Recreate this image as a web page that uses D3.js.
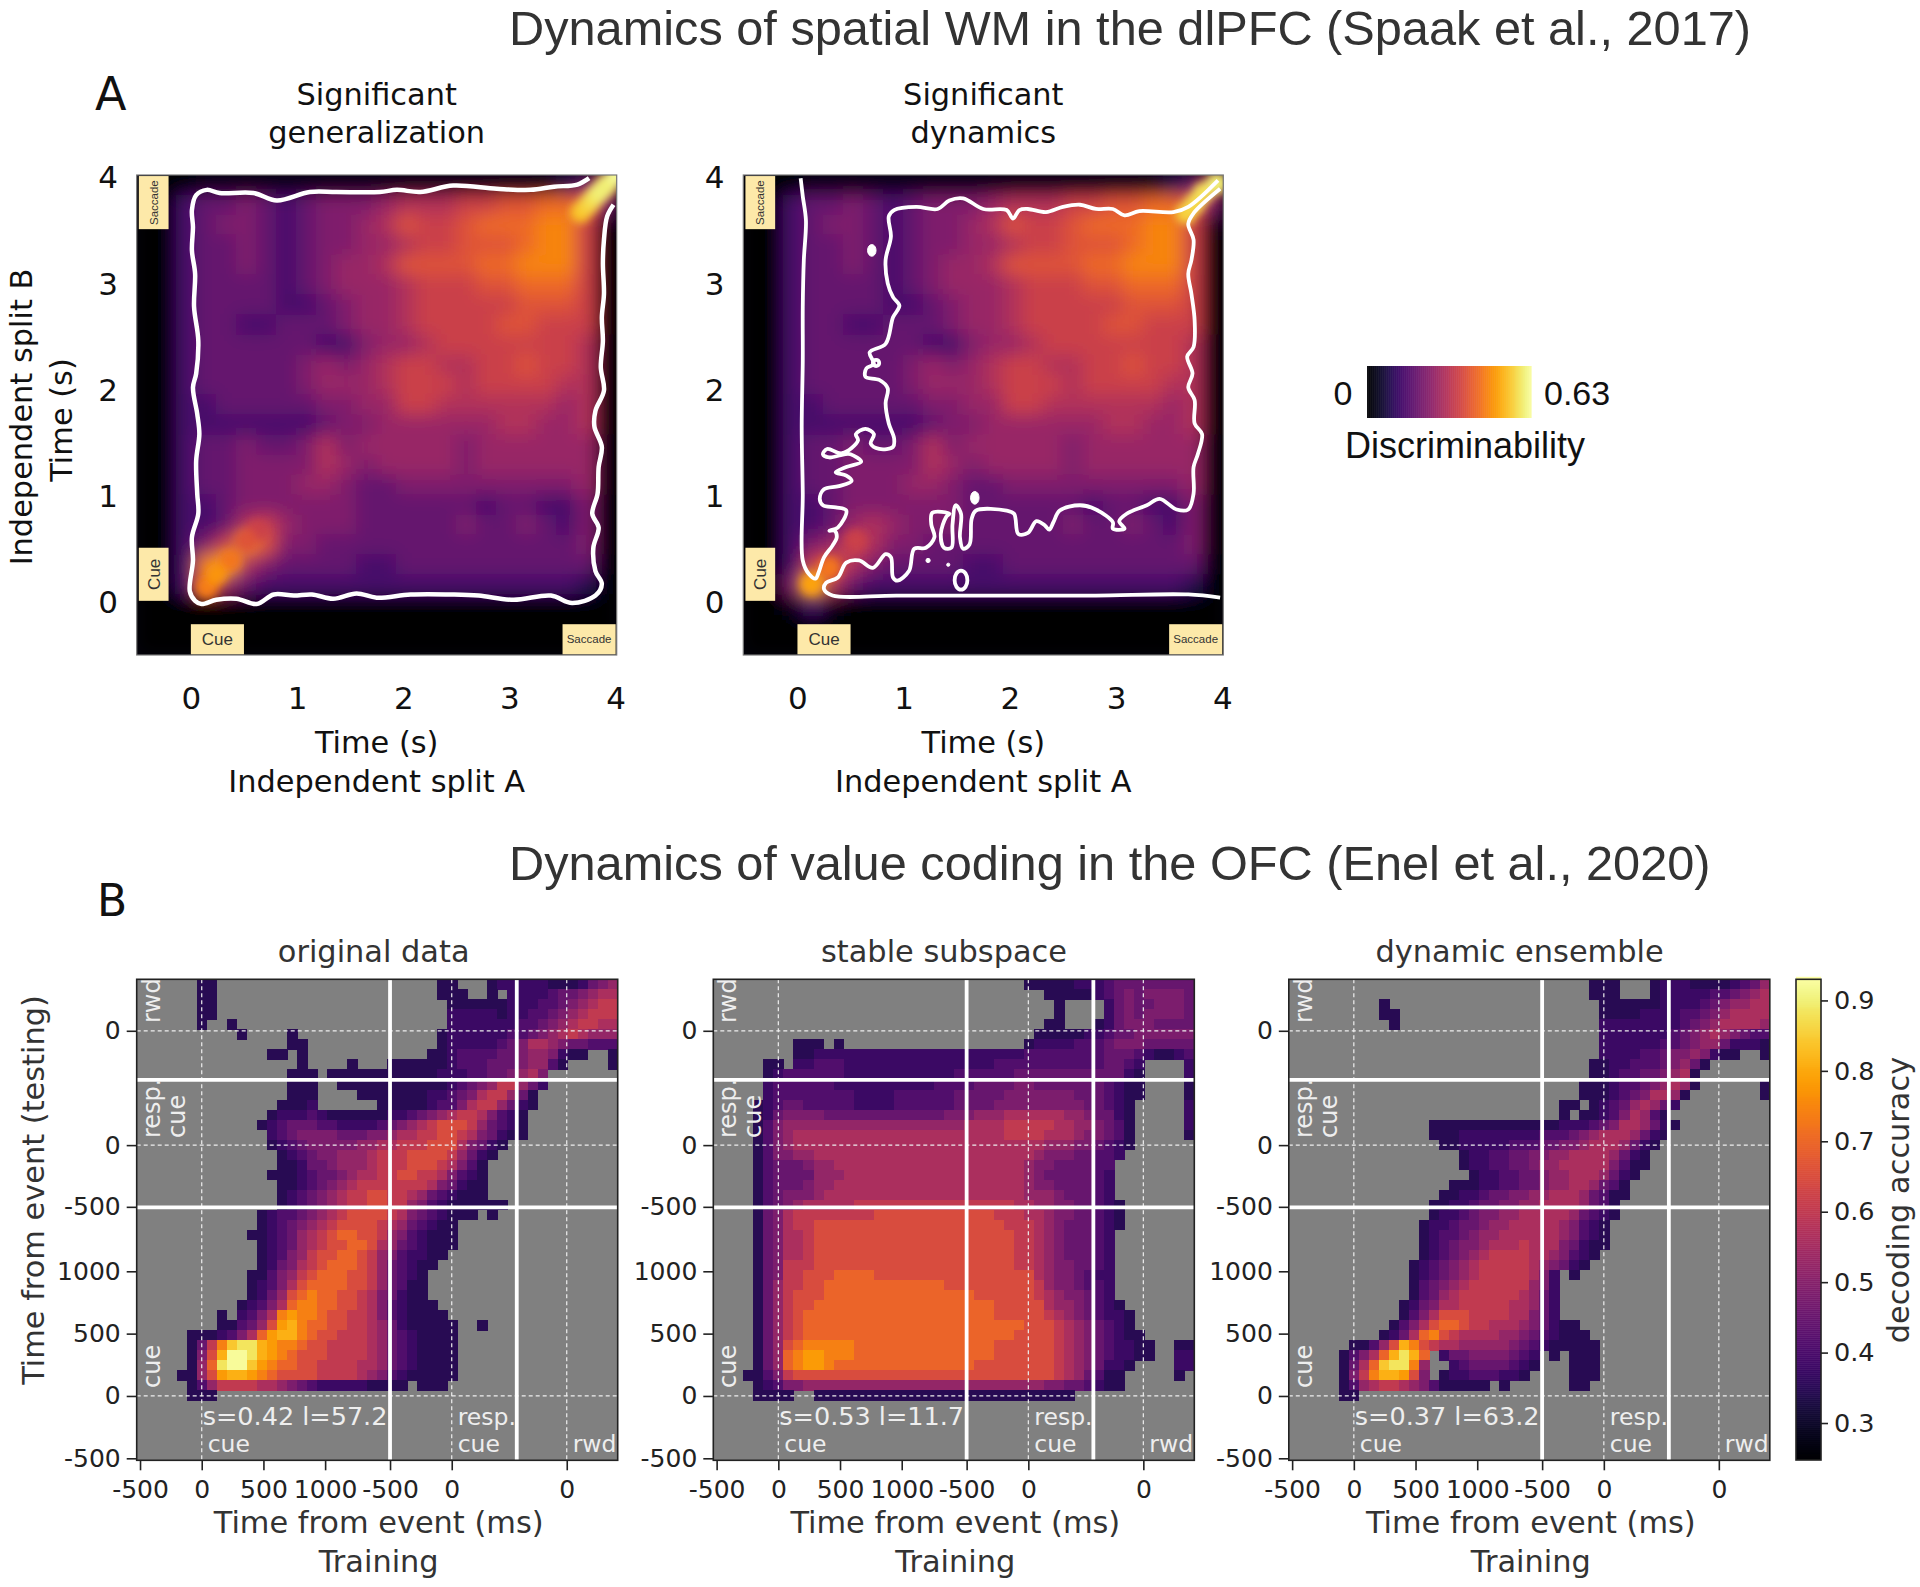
<!DOCTYPE html>
<html>
<head>
<meta charset="utf-8">
<script src="https://d3js.org/d3.v7.min.js"></script>
<style>
  body { margin: 0; background: #fff; }
  text { font-family: "DejaVu Sans", sans-serif; }
</style>
</head>
<body>
<svg id="fig" width="1920" height="1587"></svg>
<script>
// ---- data ----

// section A: discriminability. one char per cell, index into discrimLevels
const levelChars = "0123456789abcdef";
const discrimLevels = [0, .035, .09, .135, .18, .22, .26, .3, .34, .38, .42, .46, .5, .54, .58, .62];

const generalizationRows = [
  "000111111111111111 111248",
  "003445434555677788 99aa95",
  "003455434556798 89aaabb81",
  "003445434556678899 9abb80",
  "003445434566799 99aabbb80",
  "003444434566678889 9aaa80",
  "003444433456678888899980",
  "003443344456678888998880",
  "003444444335667888888870",
  "003444445656788778898870",
  "003444445666788878888770",
  "003344444556688777777670",
  "003333333455666666776670",
  "003445445756666656666660",
  "003445555765666656666660",
  "003445556654455555555560",
  "003345555554444443443350",
  "003347865554444454454350",
  "00358b955444444444444450",
  "003bc7544443344444444440",
  "003a64333333333333333320",
  "000000000000000000000000",
  "000000000000000000000000",
  "000000000000000000000000"
];
const dynamicsRows = [
  "000111111111111111 111248",
  "003445434555677788 99aa95",
  "003455434556798 89aaabb81",
  "003445434556678899 9abb80",
  "003445434566799 99aabbb80",
  "003444434566678889 9aaa80",
  "003444433456678888899980",
  "003443344456678888998880",
  "003444444335667888888870",
  "003444445656788778898870",
  "003444445666788878888770",
  "003344444556688777777670",
  "003333333455666666776670",
  "003445445756666656666660",
  "003445555765666656666660",
  "003445556654455555555560",
  "003345555554444443443350",
  "003346765554444454454350",
  "003568755444444444444450",
  "00389754444334444444 4440",
  "005c74333333333333333320",
  "001310000000000000000000",
  "000000000000000000000000",
  "000000000000000000000000"
];

// narrow ridges on the diagonal, too thin for the grid above: seconds A, seconds B, value
const generalizationRidge = [[.62,.66,.34],[.53,.57,.38],[.37,.38,.44],[.15,.13,.45],[.24,.25,.48],[3.67,3.66,.54],[3.74,3.73,.56],[3.8,3.8,.58],[3.86,3.86,.6],[3.92,3.92,.6],[4.02,4.02,.62]];
const dynamicsRidge = [[.55,.57,.34],[.3,.31,.44],[.13,.16,.5],[3.66,3.65,.56],[3.74,3.74,.57],[3.82,3.84,.58],[3.95,3.93,.6]];

// white significance outlines, [seconds A, seconds B]
const generalizationContour = [[3.75,3.98],[3.64,3.92],[3.42,3.9],[3.2,3.87],[2.88,3.88],[2.47,3.91],[2.16,3.85],[1.94,3.87],[1.78,3.85],[1.37,3.85],[1.12,3.85],[.81,3.77],[.59,3.84],[.27,3.84],[.15,3.87],[.05,3.82],[.01,3.68],[.02,3.52],[.01,3.3],[.04,3.08],[.03,2.77],[.07,2.45],[.05,2.14],[.02,2.01],[.06,1.76],[.08,1.57],[.05,1.32],[.06,1.01],[.07,.82],[.01,.6],[.02,.38],[-.01,.09],[.04,0],[.1,-.03],[.24,.01],[.43,.02],[.62,-.03],[.78,.06],[.97,.05],[1.14,.06],[1.34,.02],[1.56,.07],[1.75,.03],[2.07,.06],[2.47,.06],[2.71,.05],[3.04,.01],[3.39,.05],[3.59,-.02],[3.81,.05],[3.87,.16],[3.81,.28],[3.79,.5],[3.84,.69],[3.78,.82],[3.83,1.01],[3.84,1.26],[3.87,1.45],[3.8,1.64],[3.81,1.79],[3.89,1.98],[3.86,2.2],[3.88,2.45],[3.87,2.67],[3.89,2.89],[3.88,3.18],[3.89,3.4],[3.92,3.62],[3.98,3.73]];

const dynamicsOuter = [[.03,3.98],[.05,3.81],[.08,3.58],[.06,3.21],[.05,2.77],[.05,2.26],[.04,1.64],[.05,1.01],[.05,.38],[.11,.25],[.17,.21],[.2,.27],[.25,.41],[.33,.52],[.37,.6],[.35,.66],[.3,.66],[.38,.69],[.46,.85],[.36,.88],[.24,.9],[.21,.96],[.25,1.05],[.39,1.08],[.51,1.13],[.46,1.18],[.36,1.21],[.46,1.26],[.6,1.31],[.5,1.38],[.44,1.38],[.3,1.35],[.24,1.38],[.28,1.43],[.42,1.39],[.57,1.51],[.55,1.57],[.64,1.62],[.72,1.57],[.69,1.48],[.77,1.43],[.9,1.45],[.91,1.53],[.86,1.67],[.83,1.86],[.85,2],[.77,2.08],[.64,2.11],[.65,2.19],[.72,2.23],[.68,2.34],[.83,2.42],[.9,2.67],[.96,2.78],[.9,2.86],[.85,2.99],[.83,3.21],[.88,3.43],[.86,3.62],[.91,3.68],[1.12,3.71],[1.32,3.69],[1.43,3.77],[1.56,3.79],[1.75,3.69],[1.97,3.68],[2.03,3.6],[2.09,3.68],[2.17,3.69],[2.34,3.66],[2.5,3.71],[2.66,3.73],[2.81,3.69],[2.97,3.69],[3.08,3.63],[3.22,3.67],[3.54,3.66],[3.68,3.71],[3.96,3.96]];

const dynamicsInner = [[3.98,3.88],[3.73,3.65],[3.68,3.55],[3.73,3.4],[3.71,3.21],[3.68,3.08],[3.71,2.89],[3.74,2.64],[3.73,2.39],[3.67,2.3],[3.72,2.14],[3.68,2.01],[3.74,1.89],[3.74,1.67],[3.81,1.57],[3.77,1.38],[3.73,1.26],[3.73,1.01],[3.68,.86],[3.57,.86],[3.41,.96],[3.29,.9],[3.1,.82],[3.03,.75],[3.08,.68],[2.97,.68],[2.97,.74],[2.81,.86],[2.66,.9],[2.47,.85],[2.41,.74],[2.37,.67],[2.33,.71],[2.25,.75],[2.17,.64],[2.08,.63],[2.04,.82],[1.97,.85],[1.68,.85],[1.64,.77],[1.62,.53],[1.56,.49],[1.53,.6],[1.54,.82],[1.49,.9],[1.46,.72],[1.45,.5],[1.38,.5],[1.35,.63],[1.4,.79],[1.43,.82],[1.27,.83],[1.26,.72],[1.29,.6],[1.21,.5],[1.1,.49],[1.05,.28],[.94,.19],[.9,.22],[.88,.41],[.83,.44],[.71,.31],[.58,.38],[.46,.36],[.38,.22],[.27,.17],[.25,.11],[.33,.05],[.93,.05],[2.03,.05],[2.81,.05],[3.68,.06],[3.98,.03]];

// small islands in the dynamics outline: cx, cy, rx, ry, filled
const dynamicsIslands = [[.7,3.3,.04,.055,1],[1.67,.97,.04,.06,1],[1.23,.38,.02,.02,1],[1.42,.34,.015,.015,1],[1.54,.195,.06,.09,0],[.74,2.24,.03,.03,0]];

const secondTicks = [0, 1, 2, 3, 4];
const taskEvents = [{name: "Cue", from: 0, to: .5}, {name: "Saccade", from: 3.5, to: 4}];

// section B: decoding accuracy. "." is a non significant (grey) cell
const accuracyLevels = [.345, .375, .41, .445, .48, .52, .56, .6, .645, .695, .74, .78, .81, .84, .88, .92];

const originalRows = [
  "......00 ........ ........ ......00 ...01111 10001345",
  "......00 ........ ........ ......00 0..0.111 12334566",
  "......00 ........ ........ .......0 00000111 22345677",
  "......00 ........ ........ .......1 11110112 23456777",
  "......0. .0...... ........ .......1 11111122 34567766",
  "........ ..0....0 ........ ......01 11111223 45676555",
  "........ .......0 0....... ......01 11112346 65433222",
  "........ .....00. 0....... .....001 22223345 54100..0",
  "........ ........ 0....0.. .0000001 22233345 520....0",
  "........ .......0 00.00000 00000011 12233456 4.......",
  "........ .......0 00..0000 00000001 23457753 1.......",
  "........ .......0 00....00 00000112 34677530 ........",
  "........ ......00 01...... 00000122 46775310 ........",
  "........ .....011 12100000 01123456 7764210. ........",
  "........ ....0123 33221111 23456788 8753210. ........",
  "........ .....123 44443334 45667788 7643100. ........",
  "........ .....012 34444455 66777888 64310... ........",
  "........ ......01 23445556 77788887 5310.... ........",
  "........ ......00 13345556 77788876 420..... ........",
  "........ .....000 12334566 77887764 210..... ........",
  "........ ......00 12345677 77777643 100..... ........",
  "........ ......01 23456778 87765321 000..... ........",
  "........ ......01 23456778 87754210 00000... ........",
  "........ ....0122 34567888 87643210 00.0.... ........",
  "........ ....0123 45678888 76532100 ........ ........",
  "........ ...00123 56789988 75421000 ........ ........",
  "........ ....0123 56788998 65321000 ........ ........",
  "........ ....0124 57889987 5421100. ........ ........",
  "........ ....0134 67899987 532100.. ........ ........",
  "........ ...00245 78999887 53210... ........ ........",
  "........ ...01246 89999887 53200... ........ ........",
  "........ ...01358 9a998876 43100... ........ ........",
  "........ ..012469 aa998876 421000.. ........ ........",
  "........ 0.1246ab aa988776 4210000. ........ ........",
  "........ 002358bc a9988776 53100000 ..0..... ........",
  ".....000 12469bcc a9887776 53210000 ........ ........",
  ".....037 adeecbaa 98877776 53210000 ........ ........",
  ".....048 cffecba9 88877776 53210000 ........ ........",
  ".....059 effdba99 88777766 53210000 ........ ........",
  "....0058 bccba988 88777765 42100000 ........ ........",
  ".....025 77776654 32111110 000.000. ........ ........",
  ".....000 ........ ........ ........ ........ ........"
];

const stableRows = [
  "........ ........ ........ .......0 00001112 33333333",
  "........ ........ ........ ........ .0000012 34344443",
  "........ ........ ........ ........ ..0....1 34334443",
  "........ ........ ........ ........ ..0....1 34344443",
  "........ ........ ........ ........ .00...01 34443333",
  "........ ........ ........ ........ 00000112 33444444",
  "........ 000.0... ........ .......0 11112223 44433333",
  "........ 00111111 11111111 11111112 22222223 33210012",
  ".....00. 11222111 11111111 11112222 22222223 321....1",
  ".....012 22222111 11111111 22222233 33333333 310....1",
  ".....122 22221111 11111122 22333344 33333332 100....0",
  ".....122 22222211 11222222 33333444 44443332 100....0",
  "....0123 32222211 11222222 33334444 44444332 10.....1",
  "....0134 44433333 33333334 44555666 66655433 10.....1",
  "....0245 55555555 55555555 56666777 77665543 20.....1",
  "....0245 66666666 66666666 66666777 76665443 20.....0",
  "....0245 66666666 66666666 66666666 65554432 10......",
  "....0244 55666666 66666666 66666666 54443322 1.......",
  "....0233 34556666 66666666 66666665 44333322 ........",
  "....0233 33555666 66666666 66666665 43333321 ........",
  "....0233 34556666 66666666 66666665 44333321 ........",
  "....0234 44566666 66666666 66666665 55433321 ........",
  "....0234 56666677 77777777 77777766 55443321 0.......",
  "....0346 77777777 88888888 88887776 65443321 0.......",
  "....0346 77888888 88888888 88888777 65433321 0.......",
  "....0346 67888888 88888888 88888877 65433321 ........",
  "....0346 67888888 88888888 88888877 65433321 ........",
  "....0346 67888888 88888888 88888877 65433321 ........",
  "....0347 77888888 88888888 88888877 65443321 ........",
  "....0347 78889999 88888888 88888888 65443211 ........",
  "....0357 78899999 99999998 88888888 75443221 ........",
  "....0357 88899999 99999999 99888888 76544321 ........",
  "....0357 88999999 99999999 99998888 86554321 0.......",
  "....0357 89999999 99999999 99998888 87654321 10......",
  "....0357 89999999 99999999 99999998 88765432 10......",
  "....0357 89999999 99999999 99999988 88765432 100.....",
  "....0358 9aaaaa99 99999999 99998888 88765432 1100..00",
  "....0359 abbaaa99 99999999 99998888 88765432 1100..11",
  "....0359 abba9999 99999999 99888888 88765431 10....11",
  "...00247 88888888 88888888 88888888 88765320 0.....0.",
  "....0124 45555555 55555555 55555555 54433210 0.......",
  "....0000 ..000000 00000000 00000000 0000.... ........"
];

const dynamicRows = [
  "........ ........ ........ ......00 0...0111 00001235",
  "........ ........ ........ ......00 0...0111 11223456",
  "........ .0...... ........ .......0 00000111 12345566",
  "........ .00..... ........ .......0 00011112 23456666",
  "........ ..0..... ........ .......1 11111112 34566665",
  "........ ........ ........ .......1 11111123 45654322",
  "........ ........ ........ .......1 11111223 45531110",
  "........ ........ ........ .......1 11122344 54100..0",
  "........ ........ ........ ......00 11222345 30......",
  "........ ........ ........ ......00 12233456 0.......",
  "........ ........ ........ .....000 12234565 0......0",
  "........ ........ ........ .....000 12346650 .......0",
  "........ ........ ........ ...00.01 2356531. ........",
  "........ ........ ........ ...0.001 246520.. ........",
  "........ ......00 00000000 00011123 4665310. ........",
  "........ ......00 01111111 12223456 665310.. ........",
  "........ .......0 01111122 23344566 65310... ........",
  "........ ........ .0112233 44556666 5310.... ........",
  "........ ........ .0112233 45566666 4200.... ........",
  "........ ........ ..011223 34556665 310..... ........",
  "........ ........ 00011223 34556653 20...... ........",
  "........ .......0 01123344 55666532 00...... ........",
  "........ ......00 11233445 56666532 0....... ........",
  "........ ......01 12344556 66665321 0....... ........",
  "........ .....011 23345566 66654210 ........ ........",
  "........ .....012 23455666 66654210 ........ ........",
  "........ .....012 34456667 66643100 ........ ........",
  "........ .....012 34567777 6654210. ........ ........",
  "........ ....0123 45677777 654310.. ........ ........",
  "........ ....0123 45677777 641.0... ........ ........",
  "........ ....0234 56777777 541..... ........ ........",
  "........ ....0235 67777776 531..... ........ ........",
  "........ ...01346 67777766 531..... ........ ........",
  "........ ...02468 88777766 431..... ........ ........",
  "........ ..024689 98776665 43100... ........ ........",
  "........ .01369a8 76666554 321000.. ........ ........",
  "......00 258ca876 65555543 2100000. ........ ........",
  ".....024 69cec9.1 33444432 1.0.000. ........ ........",
  ".....036 9deea5.. 12333321 0...000. ........ ........",
  ".....047 accb84.0 11222110 ....000. ........ ........",
  ".....025 67765420 0000.0.. ....00.. ........ ........",
  ".....00. ........ ........ ........ ........ ........"
];

// the x and y axes stitch three epochs together, so these are positions along the stitched time line
const trainTickPos = [-500, 0, 500, 1000, 1526, 2026, 2958];
const testTickPos = [-500, 0, 500, 1000, 1517, 2012, 2929];
const timeTickLabels = ["-500", "0", "500", "1000", "-500", "0", "0"];
const trainEventZero = [0, 2026, 2958];
const testEventZero = [0, 2012, 2929];
const trainEpochEdge = [1526, 2553];
const testEpochEdge = [1512, 2536];

const accuracyTicks = [.3, .4, .5, .6, .7, .8, .9];

const decodingPanels = [
  {title: "original data", note: "s=0.42 l=57.2", rows: originalRows, left: 136.7, titleX: 373.7},
  {title: "stable subspace", note: "s=0.53 l=11.7", rows: stableRows, left: 713.3, titleX: 944},
  {title: "dynamic ensemble", note: "s=0.37 l=63.2", rows: dynamicRows, left: 1288.8, titleX: 1519.6}
];

// ---- helpers ----
const svg = d3.select("#fig");
const grey = "#808080";

// turn the row strings into a flat list of cells
function readCells(rows, levels, nCols) {
  const cells = [];
  rows.forEach(function (row, r) {
    const chars = row.replace(/ /g, "");
    for (let c = 0; c < nCols; c++) {
      const k = levelChars.indexOf(chars[c]);
      if (k >= 0) cells.push({r: r, c: c, v: levels[k]});
    }
  });
  return cells;
}

function label(parent, str, x, y, size, opts) {
  opts = opts || {};
  const t = parent.append("text")
    .attr("x", x).attr("y", y)
    .attr("font-size", size)
    .attr("text-anchor", opts.anchor || "middle")
    .attr("fill", opts.fill || "#111")
    .text(str);
  if (opts.font) t.style("font-family", opts.font);
  if (opts.rotate) t.attr("transform", "rotate(-90," + x + "," + y + ")");
  return t;
}

// ---- section A ----
const discrimColor = d3.scaleSequential(d3.interpolateInferno).domain([0, .63]);

const defs = svg.append("defs");
defs.append("filter")
  .attr("id", "smooth")
  .attr("x", "-5%").attr("y", "-5%").attr("width", "110%").attr("height", "110%")
  .append("feGaussianBlur").attr("stdDeviation", 9);
defs.append("filter")
  .attr("id", "smoothRidge")
  .attr("x", "-50%").attr("y", "-50%").attr("width", "200%").attr("height", "200%")
  .append("feGaussianBlur").attr("stdDeviation", 4);

function drawDiscrimPanel(left, rows, ridge, title, drawOutline, clipId) {
  const top = 175, size = 480;
  const g = svg.append("g");
  const xSec = d3.scaleLinear().domain([-.51, 4.01]).range([left, left + size]);
  const ySec = d3.scaleLinear().domain([-.51, 4.01]).range([top + size, top]);
  const colBand = d3.scaleBand().domain(d3.range(24)).range([left, left + size]);
  const rowBand = d3.scaleBand().domain(d3.range(24)).range([top, top + size]);

  g.append("clipPath").attr("id", clipId).append("rect")
    .attr("x", left).attr("y", top).attr("width", size).attr("height", size);

  const plot = g.append("g").attr("clip-path", "url(#" + clipId + ")");
  plot.append("rect").attr("x", left).attr("y", top).attr("width", size).attr("height", size).attr("fill", "#04030f");
  plot.append("g").attr("filter", "url(#smooth)")
    .selectAll("rect")
    .data(readCells(rows, discrimLevels, 24))
    .join("rect")
    .attr("x", d => colBand(d.c) - .5)
    .attr("y", d => rowBand(d.r) - .5)
    .attr("width", colBand.bandwidth() + 1)
    .attr("height", rowBand.bandwidth() + 1)
    .attr("fill", d => discrimColor(d.v));
  plot.append("g").attr("filter", "url(#smoothRidge)")
    .selectAll("circle")
    .data(ridge)
    .join("circle")
    .attr("cx", d => xSec(d[0]))
    .attr("cy", d => ySec(d[1]))
    .attr("r", 11)
    .attr("fill", d => discrimColor(d[2]));

  const line = d3.line().x(d => xSec(d[0])).y(d => ySec(d[1])).curve(d3.curveCatmullRom.alpha(.5));
  drawOutline(plot, line, xSec, ySec);

  // cue and saccade flags
  taskEvents.forEach(function (ev) {
    const small = ev.name == "Saccade";
    const fontSize = small ? 11.5 : 17;
    const bx = xSec(ev.from), bw = xSec(ev.to) - xSec(ev.from);
    const by = ySec(-.22), bh = ySec(-.505) - ySec(-.22);
    g.append("rect").attr("x", bx).attr("y", by).attr("width", bw).attr("height", bh).attr("fill", "#fde9a9");
    label(g, ev.name, bx + bw / 2, by + bh / 2 + fontSize * .35, fontSize, {font: "Liberation Sans", fill: "#333"});
    const lx = xSec(-.49), lw = xSec(-.21) - xSec(-.49);
    const ly = ySec(ev.to), lh = ySec(ev.from) - ySec(ev.to);
    g.append("rect").attr("x", lx).attr("y", ly).attr("width", lw).attr("height", lh).attr("fill", "#fde9a9");
    label(g, ev.name, lx + lw / 2 + fontSize * .35, ly + lh / 2, fontSize, {font: "Liberation Sans", fill: "#333", rotate: true});
  });

  g.append("rect").attr("x", left).attr("y", top).attr("width", size).attr("height", size)
    .attr("fill", "none").attr("stroke", "#777").attr("stroke-width", 1.2);

  const xAxis = g.append("g").attr("transform", "translate(0," + (top + size) + ")")
    .call(d3.axisBottom(xSec).tickValues(secondTicks).tickSize(0).tickPadding(32).tickFormat(d3.format("d")));
  const yAxis = g.append("g").attr("transform", "translate(" + left + ",0)")
    .call(d3.axisLeft(ySec).tickValues(secondTicks).tickSize(0).tickFormat(d3.format("d")));
  xAxis.select(".domain").remove();
  yAxis.select(".domain").remove();
  xAxis.selectAll("text").attr("font-size", 31).style("font-family", "DejaVu Sans").attr("fill", "#111");
  yAxis.selectAll("text").attr("font-size", 31).style("font-family", "DejaVu Sans").attr("fill", "#111")
    .attr("x", -28.7).attr("dy", ".38em").attr("text-anchor", "middle");

  const cx = left + 240;
  label(g, title[0], cx, 105, 30.4);
  label(g, title[1], cx, 143, 30.4);
  label(g, "Time (s)", cx, 753, 30.4);
  label(g, "Independent split A", cx, 792, 30.4);
}

drawDiscrimPanel(136.7, generalizationRows, generalizationRidge, ["Significant", "generalization"], function (plot, line) {
  plot.append("path").datum(generalizationContour).attr("d", line)
    .attr("fill", "none").attr("stroke", "#fff").attr("stroke-width", 4.5);
}, "clipA1");

drawDiscrimPanel(743.3, dynamicsRows, dynamicsRidge, ["Significant", "dynamics"], function (plot, line, xSec, ySec) {
  [dynamicsOuter, dynamicsInner].forEach(function (pts) {
    plot.append("path").datum(pts).attr("d", line)
      .attr("fill", "none").attr("stroke", "#fff").attr("stroke-width", 3.8);
  });
  plot.selectAll("ellipse").data(dynamicsIslands).join("ellipse")
    .attr("cx", d => xSec(d[0])).attr("cy", d => ySec(d[1]))
    .attr("rx", d => xSec(d[2]) - xSec(0)).attr("ry", d => ySec(0) - ySec(d[3]))
    .attr("fill", d => d[4] ? "#fff" : "none")
    .attr("stroke", "#fff").attr("stroke-width", d => d[4] ? 1 : 3.8);
}, "clipA2");

label(svg, "Independent split B", 32, 417, 30.4, {rotate: true});
label(svg, "Time (s)", 72, 420, 30.4, {rotate: true});

// discriminability colour bar
const barX = d3.scaleLinear().domain([0, .63]).range([1367, 1531]);
svg.append("g").selectAll("rect")
  .data(d3.range(0, .63, .63 / 82))
  .join("rect")
  .attr("x", d => barX(d)).attr("y", 366)
  .attr("width", 2.6).attr("height", 52)
  .attr("fill", d => discrimColor(d)).attr("opacity", .93);
label(svg, "0", 1343, 405, 34, {font: "Liberation Sans"});
label(svg, "0.63", 1544, 405, 34, {font: "Liberation Sans", anchor: "start"});
label(svg, "Discriminability", 1345, 458, 36, {font: "Liberation Sans", anchor: "start"});

// ---- section B ----
const accuracyColor = d3.scaleSequential(d3.interpolateInferno).domain([.2475, .93]);

decodingPanels.forEach(function (p) {
  const top = 979.3, size = 481;
  const g = svg.append("g");
  const x = d3.scaleLinear().domain([-527, 3371]).range([p.left, p.left + size]);
  const y = d3.scaleLinear().domain([-516, 3342]).range([top + size, top]);
  const colBand = d3.scaleBand().domain(d3.range(48)).range([p.left, p.left + size]);
  const rowBand = d3.scaleBand().domain(d3.range(48)).range([top, top + size]);

  g.append("rect").attr("x", p.left).attr("y", top).attr("width", size).attr("height", size).attr("fill", grey);
  g.append("g").attr("shape-rendering", "crispEdges")
    .selectAll("rect")
    .data(readCells(p.rows, accuracyLevels, 48))
    .join("rect")
    .attr("x", d => colBand(d.c))
    .attr("y", d => rowBand(d.r))
    .attr("width", colBand.bandwidth() + .5)
    .attr("height", rowBand.bandwidth() + .5)
    .attr("fill", d => accuracyColor(d.v));

  // event onsets, dashed, and epoch borders, solid
  g.selectAll(".zx").data(trainEventZero).join("line").attr("class", "zx")
    .attr("x1", d => x(d)).attr("x2", d => x(d)).attr("y1", top).attr("y2", top + size)
    .attr("stroke", "#eee").attr("stroke-width", 1.2).attr("stroke-dasharray", "4,3");
  g.selectAll(".zy").data(testEventZero).join("line").attr("class", "zy")
    .attr("y1", d => y(d)).attr("y2", d => y(d)).attr("x1", p.left).attr("x2", p.left + size)
    .attr("stroke", "#eee").attr("stroke-width", 1.2).attr("stroke-dasharray", "4,3");
  g.selectAll(".ex").data(trainEpochEdge).join("line").attr("class", "ex")
    .attr("x1", d => x(d)).attr("x2", d => x(d)).attr("y1", top).attr("y2", top + size)
    .attr("stroke", "#fff").attr("stroke-width", 3.8);
  g.selectAll(".ey").data(testEpochEdge).join("line").attr("class", "ey")
    .attr("y1", d => y(d)).attr("y2", d => y(d)).attr("x1", p.left).attr("x2", p.left + size)
    .attr("stroke", "#fff").attr("stroke-width", 3.8);

  g.append("rect").attr("x", p.left).attr("y", top).attr("width", size).attr("height", size)
    .attr("fill", "none").attr("stroke", "#222").attr("stroke-width", 1.6);

  // epoch names inside the panel
  const inText = "#eee";
  label(g, "rwd", p.left + 23, 1023, 24, {anchor: "start", fill: inText, rotate: true});
  label(g, "resp.", p.left + 23, 1138, 24, {anchor: "start", fill: inText, rotate: true});
  label(g, "cue", p.left + 48, 1138, 24, {anchor: "start", fill: inText, rotate: true});
  label(g, "cue", p.left + 23, 1388, 24, {anchor: "start", fill: inText, rotate: true});
  label(g, p.note, p.left + 66, 1425, 25.5, {anchor: "start", fill: inText});
  label(g, "cue", p.left + 71, 1452, 23.5, {anchor: "start", fill: inText});
  label(g, "resp.", p.left + 321, 1425, 23.5, {anchor: "start", fill: inText});
  label(g, "cue", p.left + 321, 1452, 23.5, {anchor: "start", fill: inText});
  label(g, "rwd", p.left + 436, 1452, 23.5, {anchor: "start", fill: inText});

  const xAxis = g.append("g").attr("transform", "translate(0," + (top + size) + ")")
    .call(d3.axisBottom(x).tickValues(trainTickPos).tickSize(10).tickPadding(10)
      .tickFormat((d, i) => timeTickLabels[i]));
  const yAxis = g.append("g").attr("transform", "translate(" + p.left + ",0)")
    .call(d3.axisLeft(y).tickValues(testTickPos).tickSize(10).tickPadding(6)
      .tickFormat((d, i) => timeTickLabels[i]));
  [xAxis, yAxis].forEach(function (a) {
    a.select(".domain").remove();
    a.selectAll("line").attr("stroke", "#222").attr("stroke-width", 1.6);
    a.selectAll("text").attr("font-size", 25).style("font-family", "DejaVu Sans").attr("fill", "#222");
  });

  label(g, p.title, p.titleX, 962, 30.4, {fill: "#333"});
  label(g, "Time from event (ms)", p.left + 242, 1533, 30.4, {fill: "#333"});
  label(g, "Training", p.left + 242, 1572, 30.4, {fill: "#333"});
});

label(svg, "Time from event (testing)", 44, 1190, 30.4, {fill: "#333", rotate: true});

// accuracy colour bar
const barY = d3.scaleLinear().domain([.2475, .93]).range([1460, 979.3]);
svg.append("g").selectAll("rect")
  .data(d3.range(.2475, .93, .6825 / 240))
  .join("rect")
  .attr("x", 1796).attr("y", d => barY(d) - 2.5)
  .attr("width", 25).attr("height", 2.5)
  .attr("fill", d => accuracyColor(d));
svg.append("rect").attr("x", 1796).attr("y", 979.3).attr("width", 25).attr("height", 480.7)
  .attr("fill", "none").attr("stroke", "#222").attr("stroke-width", 1.6);
const barAxis = svg.append("g").attr("transform", "translate(1821,0)")
  .call(d3.axisRight(barY).tickValues(accuracyTicks).tickSize(7).tickPadding(6).tickFormat(d3.format(".1f")));
barAxis.select(".domain").remove();
barAxis.selectAll("line").attr("stroke", "#222").attr("stroke-width", 1.6);
barAxis.selectAll("text").attr("font-size", 25.5).style("font-family", "DejaVu Sans").attr("fill", "#222");
label(svg, "decoding accuracy", 1909, 1200, 30.4, {fill: "#333", rotate: true});

// ---- headings ----
label(svg, "Dynamics of spatial WM in the dlPFC (Spaak et al., 2017)", 509, 45, 48.7, {font: "Liberation Sans", anchor: "start", fill: "#333"});
label(svg, "Dynamics of value coding in the OFC (Enel et al., 2020)", 509, 880, 48.7, {font: "Liberation Sans", anchor: "start", fill: "#333"});
label(svg, "A", 95, 110, 46, {anchor: "start"});
label(svg, "B", 97, 916, 44, {anchor: "start"});
</script>
</body>
</html>
